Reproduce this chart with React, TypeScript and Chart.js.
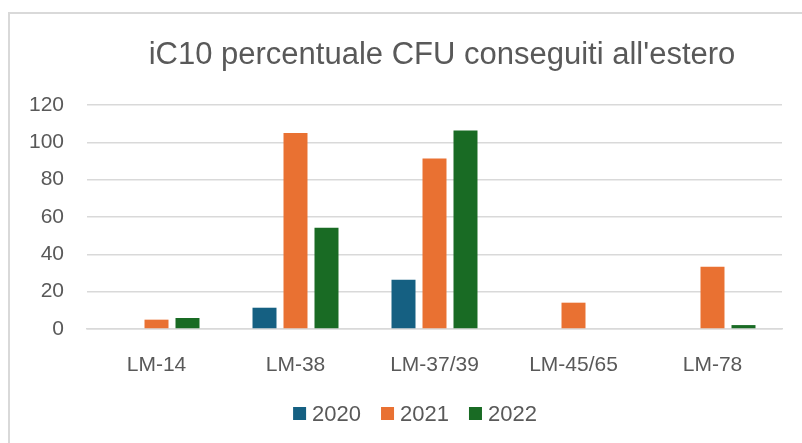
import React, { useEffect, useRef } from "react";
import { Chart, registerables } from "chart.js";

Chart.register(...registerables);

const TITLE = "iC10 percentuale CFU conseguiti all'estero";
const categories = ["LM-14", "LM-38", "LM-37/39", "LM-45/65", "LM-78"];
const seriesNames = ["2020", "2021", "2022"];
const values2020 = [null, 11.4, 26.4, null, null];
const values2021 = [5.0, 105.0, 91.3, 14.1, 33.4];
const values2022 = [5.9, 54.3, 106.4, null, 2.1];
const colors = ["#156082", "#E97132", "#196B24"];
const yTicks = [0, 20, 40, 60, 80, 100, 120];

const FONT = "'Liberation Sans', Arial, sans-serif";
const TEXT = "#595959";

const titlePlugin = {
  id: "customTitle",
  afterDraw(chart: any) {
    const ctx = chart.ctx;
    ctx.save();
    ctx.font = `31px ${FONT}`;
    ctx.fillStyle = TEXT;
    ctx.textAlign = "center";
    ctx.textBaseline = "middle";
    ctx.fillText(TITLE, 442, 55);

    // legend built from the chart's datasets
    const items = chart.data.datasets.map((d: any) => ({ label: d.label, color: d.backgroundColor }));
    ctx.font = `22px ${FONT}`;
    const box = 13;
    const gapText = 6;
    const gapItem = 20;
    const widths = items.map((it: any) => box + gapText + ctx.measureText(it.label).width);
    const total = widths.reduce((a: number, b: number) => a + b, 0) + gapItem * (items.length - 1);
    let x = 415 - total / 2;
    const cy = 413.5;
    ctx.textAlign = "left";
    items.forEach((it: any, i: number) => {
      ctx.fillStyle = it.color;
      ctx.fillRect(x, cy - box / 2, box, box);
      ctx.fillStyle = TEXT;
      ctx.fillText(it.label, x + box + gapText, cy + 1);
      x += widths[i] + gapItem;
    });
    ctx.restore();
  },
};

export default function App() {
  const ref = useRef<HTMLCanvasElement | null>(null);
  useEffect(() => {
    if (!ref.current) return;
    const data = [values2020, values2021, values2022];
    const chart = new Chart(ref.current, {
      type: "bar",
      data: {
        labels: categories,
        datasets: seriesNames.map((n, i) => ({
          label: n,
          data: data[i] as any,
          backgroundColor: colors[i],
          borderWidth: 0,
          categoryPercentage: 0.669,
          barPercentage: 0.774,
        })),
      },
      options: {
        responsive: false,
        animation: false,
        devicePixelRatio: 1,
        layout: { padding: { left: 28, right: 20, top: 105, bottom: 57 } },
        plugins: {
          title: { display: false },
          tooltip: { enabled: false },
          legend: { display: false },
        },
        scales: {
          x: {
            grid: { display: false, drawTicks: false },
            border: { display: true, color: "#D9D9D9", width: 1.5 },
            ticks: { color: TEXT, font: { family: FONT, size: 21 }, padding: 24, maxRotation: 0 },
            afterFit(scale: any) {
              scale.height = 57;
            },
          },
          y: {
            min: 0,
            max: 120,
            afterBuildTicks(scale: any) {
              scale.ticks = yTicks.map((v) => ({ value: v }));
            },
            grid: { color: "#D9D9D9", lineWidth: 1.5, drawTicks: false },
            border: { display: false },
            ticks: { color: TEXT, font: { family: FONT, size: 21 }, padding: 23 },
            afterFit(scale: any) {
              scale.width = 59;
            },
          },
        },
      },
      plugins: [titlePlugin],
    });
    return () => chart.destroy();
  }, []);
  return (
    <div style={{ position: "fixed", left: 0, top: 0, width: 802, height: 443, background: "#fff", overflow: "hidden" }}>
      <div
        style={{
          position: "absolute",
          left: 8,
          top: 12,
          width: 1000,
          height: 1000,
          border: "2px solid #D9D9D9",
          boxSizing: "border-box",
        }}
      />
      <canvas ref={ref} width={802} height={443} style={{ position: "absolute", left: 0, top: 0, width: 802, height: 443 }} />
    </div>
  );
}
